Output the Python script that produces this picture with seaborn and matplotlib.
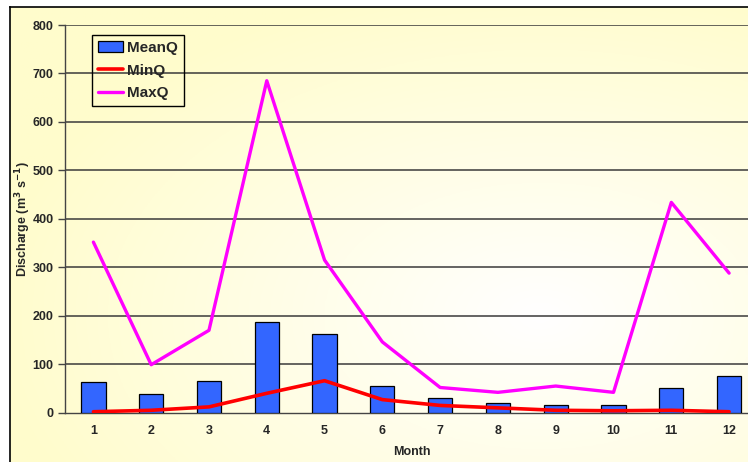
import numpy as np
import pandas as pd
import matplotlib
matplotlib.use("Agg")
import matplotlib.pyplot as plt
import seaborn as sns
from matplotlib.patches import Patch
from matplotlib.lines import Line2D

# =====================================
# Data
# =====================================

months = ["1", "2", "3", "4", "5", "6", "7", "8", "9", "10", "11", "12"]
mean_q = [64, 38, 65, 187, 162, 56, 30, 19, 15, 15, 50, 75]
min_q = [2, 5, 12, 40, 66, 27, 15, 10, 5, 4, 5, 2]
max_q = [352, 99, 170, 685, 315, 146, 52, 42, 55, 42, 434, 288]

df = pd.DataFrame({
    "Month": months,
    "MeanQ": mean_q,
    "MinQ": min_q,
    "MaxQ": max_q,
})
df["pos"] = np.arange(len(months))

# =====================================
# Figure
# =====================================

sns.set_theme(style="white")
plt.rcParams["font.family"] = ["Liberation Sans", "DejaVu Sans"]
plt.rcParams["font.weight"] = "bold"
plt.rcParams["mathtext.default"] = "bf"

W, H = 748, 462
fig = plt.figure(figsize=(W / 100, H / 100), dpi=100)
fig.patch.set_facecolor("white")

# background gradient (pale yellow edges, white centre)
bg = fig.add_axes([10 / W, 0, 1 - 10 / W, 1 - 7 / H], zorder=0)
gx, gy = np.meshgrid(np.linspace(0, 1, 300), np.linspace(0, 1, 200))
r = np.sqrt(((gx - 0.72) / 0.75) ** 2 + ((gy - 0.68) / 0.75) ** 2)
r = np.clip(r, 0, 1)
top = np.array([1.0, 1.0, 1.0])
edge = np.array([1.0, 0.99, 0.80])
img = top[None, None, :] * (1 - r[..., None]) + edge[None, None, :] * r[..., None]
bg.imshow(img, aspect="auto", extent=[0, 1, 0, 1], origin="upper")
bg.set_xticks([])
bg.set_yticks([])
for s in ["right", "bottom"]:
    bg.spines[s].set_visible(False)
for s in ["left", "top"]:
    bg.spines[s].set_color("black")
    bg.spines[s].set_linewidth(1.2)

ax = fig.add_axes([64.5 / W, 1 - 412.7 / H, 693.5 / W, (412.7 - 25) / H], zorder=1)
ax.patch.set_alpha(0)

sns.barplot(
    data=df, x="Month", y="MeanQ", ax=ax,
    color="#3366FF", saturation=1, width=0.42,
    edgecolor="black", linewidth=0.9, zorder=3,
)
sns.lineplot(data=df, x="pos", y="MinQ", ax=ax, color="#FF0000", lw=2.6, zorder=4)
sns.lineplot(data=df, x="pos", y="MaxQ", ax=ax, color="#FF00FF", lw=2.4, zorder=4)

ax.set_xlim(-0.5, 11.5)
ax.set_ylim(0, 800)
ax.set_yticks(range(0, 801, 100))
ax.set_xticks(range(12))
ax.set_xticklabels(months)
ax.set_xticks(np.arange(-0.5, 12, 1), minor=True)

for yv in range(100, 801, 100):
    ax.axhline(yv, color="#3a3a3a", lw=1.1, zorder=1)

ax.tick_params(axis="x", which="major", length=0, pad=9, labelsize=9)
ax.tick_params(axis="x", which="minor", length=5, width=1, color="#444444", direction="out")
ax.tick_params(axis="y", length=5, width=1, color="#444444", direction="out", pad=3, labelsize=9, left=True)
for lab in ax.get_xticklabels() + ax.get_yticklabels():
    lab.set_fontweight("bold")

for s in ["top", "right"]:
    ax.spines[s].set_visible(False)
for s in ["left", "bottom"]:
    ax.spines[s].set_color("#444444")
    ax.spines[s].set_linewidth(1)

ax.set_xlabel("Month", fontsize=9, fontweight="bold")
ax.xaxis.set_label_coords((412 - 64.5) / 693.5, -(446 - 412.7) / (412.7 - 25))
ax.set_ylabel("Discharge (m$^{3}$ s$^{-1}$)", fontsize=9, fontweight="bold")
ax.yaxis.set_label_coords(-(64.5 - 33) / 693.5, 0.5)

handles = [
    Patch(facecolor="#3366FF", edgecolor="black", linewidth=0.9),
    Line2D([0], [0], color="#FF0000", lw=2.6),
    Line2D([0], [0], color="#FF00FF", lw=2.4),
]
leg = ax.legend(
    handles, ["MeanQ", "MinQ", "MaxQ"],
    loc="upper left", bbox_to_anchor=((92 - 64.5) / 693.5, 1 - (35 - 25) / 387.7),
    frameon=True, fancybox=False, facecolor="none", edgecolor="black",
    prop={"weight": "bold", "size": 11},
    handlelength=1.6, handletextpad=0.3, labelspacing=0.55,
    borderpad=0.4, borderaxespad=0,
)
leg.get_frame().set_linewidth(1)
leg.get_frame().set_alpha(None)

fig.savefig("out.png", dpi=100)
